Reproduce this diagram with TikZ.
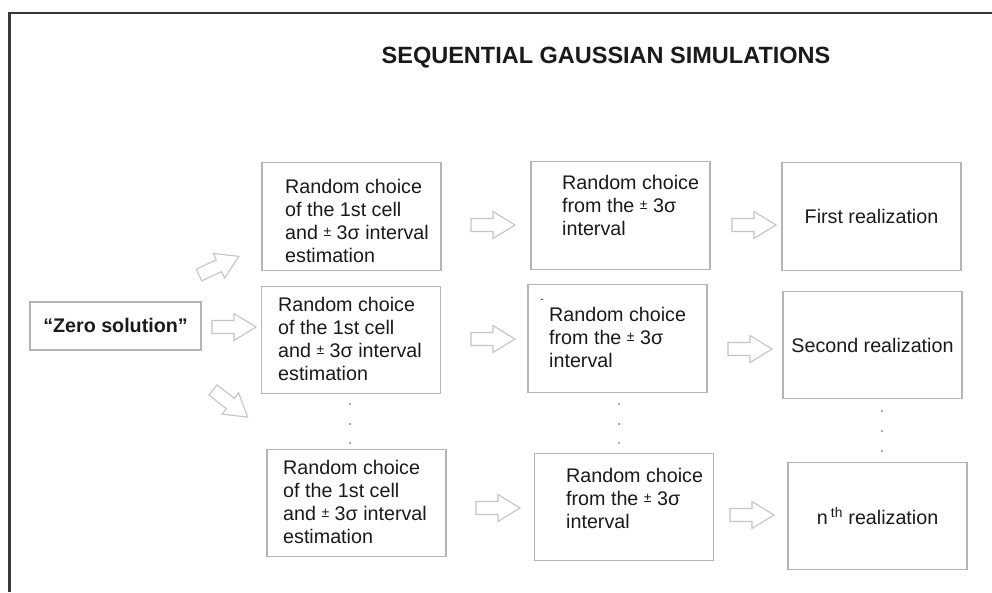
\documentclass[tikz,border=0pt]{standalone}
\usepackage{fontspec}
\setmainfont{Liberation Sans}
\definecolor{boxgray}{HTML}{B4B4B4}
\definecolor{arrgray}{HTML}{C4C4C4}
\definecolor{framegray}{HTML}{383838}
\definecolor{txtblack}{HTML}{1A1A1A}
\newcommand\pmsym{{\fontsize{14}{14}\selectfont\raisebox{3pt}{±}}}
\tikzset{
  pics/barrow/.style={code={
    \draw[line width=1.1pt, draw=arrgray, fill=white, line join=miter]
      (0,-6.5) -- (22,-6.5) -- (22,-13.5) -- (44,0) -- (22,13.5) -- (22,6.5) -- (0,6.5) -- cycle;}}
}
\begin{document}
\begin{tikzpicture}[x=1pt,y=-1pt,
  box/.style={draw=boxgray, line width=1.3pt, minimum width=179pt, minimum height=107.5pt, inner sep=0pt},
  txt/.style={font=\fontsize{19.7}{23}\selectfont, text=txtblack, align=left, inner sep=0pt, anchor=west},
  ctxt/.style={font=\fontsize{19.7}{23}\selectfont, text=txtblack, inner sep=0pt},
  dot/.style={circle, fill=black!65, inner sep=0pt, minimum size=1.8pt}
]
\useasboundingbox (0,0) rectangle (992,592);
\fill[white] (0,0) rectangle (992,592);
% outer frame
\draw[framegray, line width=2.4pt] (9.6,592) -- (9.6,12.8) -- (992,12.8);

% title
\node[font=\bfseries\fontsize{23.5}{28}\selectfont, text=txtblack, inner sep=0pt] (title) at (606,58) {SEQUENTIAL GAUSSIAN SIMULATIONS};

% boxes
\node[box, minimum width=171pt, minimum height=48pt] (Z) at (115.5,326) {};
\node[font=\bfseries\fontsize{19.7}{23}\selectfont, text=txtblack, inner sep=0pt] (Zt) at (115.5,325) {“Zero solution”};

\node[box] (A1) at (351.5,216.5) {};
\node[box] (A2) at (351,340) {};
\node[box] (A3) at (356.5,503) {};
\node[box] (B1) at (620.5,215.5) {};
\node[box] (B2) at (617.5,338.5) {};
\node[box] (B3) at (624,507) {};
\node[box] (C1) at (871.5,216.5) {};
\node[box] (C2) at (872.5,345) {};
\node[box] (C3) at (877.5,516) {};

% texts
\node[txt] (A1t) at (285,220.5) {Random choice\\of the 1st cell\\and \pmsym\ 3σ interval\\estimation};
\node[txt] (A2t) at (278,338.5) {Random choice\\of the 1st cell\\and \pmsym\ 3σ interval\\estimation};
\node[txt] (A3t) at (283,502) {Random choice\\of the 1st cell\\and \pmsym\ 3σ interval\\estimation};
\node[txt] (B1t) at (562,205.5) {Random choice\\from the \pmsym\ 3σ\\interval};
\node[txt] (B2t) at (549,337) {Random choice\\from the \pmsym\ 3σ\\interval};
\node[txt] (B3t) at (566,498) {Random choice\\from the \pmsym\ 3σ\\interval};
\node[font=\fontsize{10}{10}\selectfont, text=txtblack, inner sep=0pt] (stray) at (542,301) {-};
\node[ctxt] (C1t) at (C1) {First realization};
\node[ctxt] (C2t) at (C2) {Second realization};
\node[ctxt] (C3t) at (C3) {n\,\textsuperscript{th} realization};

% block arrows
\pic[rotate=25] at (199,275) {barrow};
\pic at (212,327) {barrow};
\pic[rotate=-38] at (213,390) {barrow};
\pic at (471,225) {barrow};
\pic at (471,339) {barrow};
\pic at (476,508) {barrow};
\pic at (732,225) {barrow};
\pic at (728,349) {barrow};
\pic at (730,515) {barrow};

% ellipsis dots
\foreach \yy in {404,424,443} {
  \node[dot] at (350,\yy) {};
  \node[dot] at (619,\yy) {};
}
\foreach \yy in {411,431,451} {
  \node[dot] at (882,\yy) {};
}
\end{tikzpicture}
\end{document}
